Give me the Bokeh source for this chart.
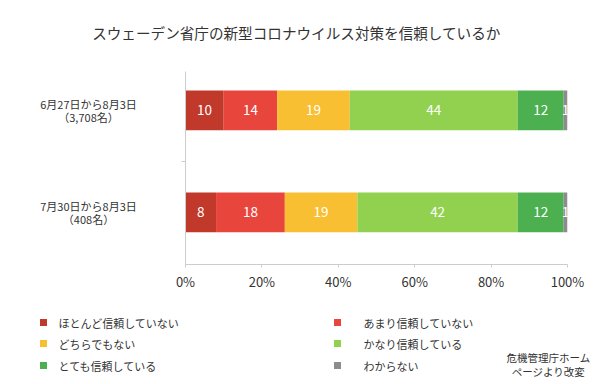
from bokeh.plotting import figure
from bokeh.layouts import column, row
from bokeh.models import ColumnDataSource, FixedTicker, Range1d
from bokeh.core.properties import value
from bokeh.embed import file_html
from bokeh.resources import INLINE
import numpy as np

title = "スウェーデン省庁の新型コロナウイルス対策を信頼しているか"
periods = ["6月27日から8月3日\n（3,708名）", "7月30日から8月3日\n（408名）"]
series = ["ほとんど信頼していない", "あまり信頼していない", "どちらでもない",
          "かなり信頼している", "とても信頼している", "わからない"]
colors = ["#c0392b", "#e8453c", "#f9bf32", "#92d050", "#4caf50", "#8c8c8c"]
row1 = [10, 14, 19, 44, 12, 1]
row2 = [8, 18, 19, 42, 12, 1]
x_ticks = [0, 20, 40, 60, 80, 100]
source_note = ["危機管理庁ホーム", "ページより改変"]

FONT = "Noto Sans CJK JP"
TXT = "#333333"
rows = [row1, row2]
ypos = [len(rows) - 1 - i for i in range(len(rows))]  # top row first


def blank_fig(w, h, xr, yr, **kw):
    f = figure(width=w, height=h, output_backend="svg", toolbar_location=None,
               x_range=xr, y_range=yr, x_axis_type=None, y_axis_type=None,
               min_border=0, **kw)
    f.outline_line_color = None
    f.grid.visible = False
    return f


# ---------------- title strip ----------------
tfig = blank_fig(602, 55, Range1d(0, 602), Range1d(55, 0))
tfig.text(x=[296], y=[32], text=[title], text_font=value(FONT), text_font_size="14.6px",
          text_color=TXT, text_align="center", text_baseline="middle")

# ---------------- main chart ----------------
y_range = Range1d(-0.51, 1.38)
data = {"y": ypos}
for si, s in enumerate(series):
    data[s] = [r[si] for r in rows]
src = ColumnDataSource(data)

p = figure(width=427, height=245, output_backend="svg", toolbar_location=None,
           x_range=Range1d(0, 100), y_range=y_range,
           min_border_left=10, min_border_right=35, min_border_top=16,
           min_border_bottom=36)
p.outline_line_color = None
p.grid.visible = False

p.hbar_stack(series, y="y", height=0.39, color=colors, source=src, line_color=None)

for ri, r in enumerate(rows):
    arr = np.array(r, dtype=float)
    centers = np.cumsum(arr) - arr / 2
    p.text(x=list(centers), y=[ypos[ri]] * len(r), text=[str(v) for v in r],
           text_color="white", text_align="center", text_baseline="middle",
           text_font=value(FONT), text_font_size="13.5px")

xa = p.xaxis[0]
xa.ticker = FixedTicker(ticks=x_ticks)
xa.major_label_overrides = {t: f"{t}%" for t in x_ticks}
xa.axis_line_color = "#cccccc"
xa.major_tick_line_color = "#cccccc"
xa.major_tick_in = 0
xa.major_tick_out = 3
xa.minor_tick_line_color = None
xa.major_label_text_font = FONT
xa.major_label_text_font_size = "13px"
xa.major_label_text_color = TXT
xa.major_label_standoff = 4

ya = p.yaxis[0]
ya.ticker = FixedTicker(ticks=[0.5])
ya.major_label_overrides = {0.5: ""}
ya.axis_line_color = "#cccccc"
ya.major_tick_line_color = "#cccccc"
ya.major_tick_in = 0
ya.major_tick_out = 4
ya.minor_tick_line_color = None
ya.major_label_standoff = 0
ya.major_label_text_font_size = "1px"

# ---------------- category labels (left strip) ----------------
cfig = blank_fig(175, 245, Range1d(0, 175), y_range)
cfig.min_border_top = 16
cfig.min_border_bottom = 36
for ri, lab in enumerate(periods):
    lines = lab.split("\n")
    n = len(lines)
    for li, ln in enumerate(lines):
        cfig.text(x=[88], y=[ypos[ri]], text=[ln], y_offset=(li - (n - 1) / 2) * 13.5,
                  text_font=value(FONT), text_font_size="11px", text_color=TXT,
                  text_align="center", text_baseline="middle")

# ---------------- legend strip ----------------
lfig = blank_fig(602, 84, Range1d(0, 602), Range1d(384, 300))
col_sq = [43, 337]
col_tx = [58, 363]
row_y = [322, 343, 365]
for i, (name, c) in enumerate(zip(series, colors)):
    ci, rj = i % 2, i // 2
    lfig.scatter(x=[col_sq[ci]], y=[row_y[rj]], marker="square", size=7,
                 fill_color=c, line_color=None)
    lfig.text(x=[col_tx[ci]], y=[row_y[rj]], text=[name], text_font=value(FONT),
              text_font_size="11px", text_color=TXT, text_align="left",
              text_baseline="middle")
for li, ln in enumerate(source_note):
    lfig.text(x=[548], y=[357 + 13.5 * li], text=[ln], text_font=value(FONT),
              text_font_size="10.5px", text_color=TXT, text_align="center",
              text_baseline="middle")

layout = column(tfig, row(cfig, p), lfig)
open("out.html", "w").write(file_html(layout, INLINE))
